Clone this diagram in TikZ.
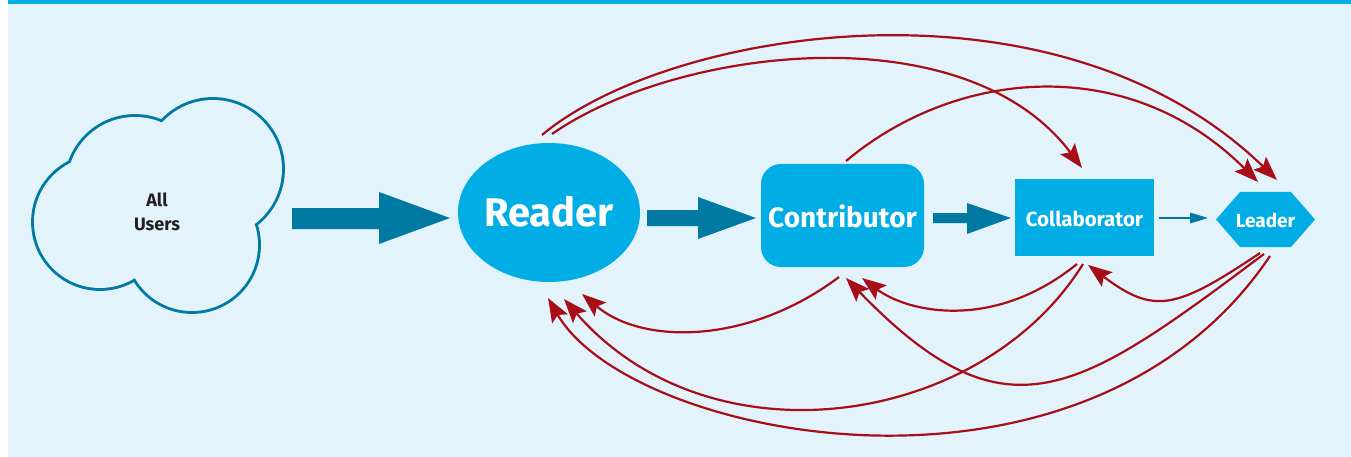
\documentclass[tikz,border=0pt]{standalone}
\usepackage{fontspec}
\setmainfont{Fira Sans}
\usetikzlibrary{arrows.meta,shapes.geometric}
\definecolor{bgblue}{HTML}{E2F3FB}
\definecolor{cyanbox}{HTML}{00ADE5}
\definecolor{teal}{HTML}{007AA3}
\definecolor{redline}{HTML}{A70E18}
\definecolor{darktext}{HTML}{231F20}
\tikzset{
  fatarrow/.style={fill=teal, draw=none},
  boxtext/.style={text=white, font=\bfseries, inner sep=0pt},
  redtip/.tip={Stealth[length=24pt, width=18pt, inset=4.5pt]},
  flow/.style={draw=redline, line width=2.2pt, -redtip},
}
\begin{document}
\begin{tikzpicture}[x=1pt,y=-1pt]
\useasboundingbox (0,0) rectangle (1351,457);
\fill[white] (0,0) rectangle (1351,457);
\fill[bgblue] (8,0) rectangle (1351,457);
\fill[cyanbox] (8,0) rectangle (1351,4);
% cloud
\foreach \cx/\cy/\r in {135/185/68, 213/169/69, 192/245/66, 100/222/66}
  \draw[teal, line width=5.8pt] (\cx,\cy) circle[radius=\r];
\foreach \cx/\cy/\r in {135/185/68, 213/169/69, 192/245/66, 100/222/66}
  \fill[bgblue] (\cx,\cy) circle[radius=\r];
\node[text=darktext, font=\bfseries\fontsize{18}{24}\selectfont, align=center] (users) at (157,212) {All\\Users};
% fat arrows
\fill[fatarrow] (292,208) -- (379,208) -- (379,192) -- (450,218) -- (379,244) -- (379,229) -- (292,229) -- cycle;
\fill[fatarrow] (647,210) -- (698,210) -- (698,197) -- (756,218) -- (698,239) -- (698,226) -- (647,226) -- cycle;
\fill[fatarrow] (933,213) -- (967,213) -- (967,203) -- (1011,218) -- (967,234) -- (967,223) -- (933,223) -- cycle;
% nodes
\node[ellipse, fill=cyanbox, minimum width=182pt, minimum height=139pt, inner sep=0pt] (reader) at (549,212.5) {};
\node[boxtext, font=\bfseries\fontsize{40}{40}\selectfont] (readert) at (549,212) {Reader};
\node[fill=cyanbox, rounded corners=20pt, minimum width=163pt, minimum height=103pt, inner sep=0pt] (contrib) at (842.5,215.5) {};
\node[boxtext, font=\bfseries\fontsize{28}{28}\selectfont] (contribt) at (842.5,216) {Contributor};
\node[fill=cyanbox, minimum width=139pt, minimum height=77pt, inner sep=0pt] (collab) at (1084.5,217.5) {};
\node[boxtext, font=\bfseries\fontsize{20.5}{20.5}\selectfont] (collabt) at (1084.5,219) {Collaborator};
\fill[cyanbox] (1216,219.5) -- (1240,192) -- (1291,192) -- (1315,219.5) -- (1291,247) -- (1240,247) -- cycle;
\node[boxtext, font=\bfseries\fontsize{19}{19}\selectfont] (leader) at (1265.5,220) {Leader};
% thin arrow
\coordinate (c4a) at (1159,218);
\coordinate (c4b) at (1190,218);
\draw[teal, line width=2.7pt] (c4a) -- (c4b);
\fill[teal] (1190,212.5) -- (1208,218) -- (1190,223.5) -- cycle;
% endpoints of feedback curves
\coordinate (rTop1) at (542,135);
\coordinate (rTop2) at (552,134);
\coordinate (cTop) at (846,161);
\coordinate (colTopIn) at (1082,168);
\coordinate (lTopIn1) at (1258,182);
\coordinate (lTopIn2) at (1277,180);
\coordinate (cBot) at (839,277);
\coordinate (rIn1) at (548,298);
\coordinate (rIn2) at (564,299);
\coordinate (rIn3) at (582,294);
\coordinate (cIn1) at (846,278);
\coordinate (cIn2) at (862,278);
\coordinate (colBot1) at (1077,264);
\coordinate (colBot2) at (1083,264);
\coordinate (colIn) at (1088,265);
\coordinate (lBot1) at (1260,253);
\coordinate (lBot2) at (1264,254);
\coordinate (lBot3) at (1270,256);
% top curves
\draw[flow] (rTop1) .. controls (668,29) and (1055,-35) .. (lTopIn2);
\draw[flow] (rTop2) .. controls (677,47) and (965,12) .. (colTopIn);
\draw[flow] (cTop) .. controls (957,68) and (1129,53) .. (lTopIn1);
% bottom curves
\draw[flow] (cBot) .. controls (750,344) and (643.5,345.6) .. (rIn3);
\draw[flow] (lBot3) .. controls (1085,531) and (630,440) .. (rIn1);
\draw[flow] (colBot2) .. controls (981,428) and (710,467) .. (rIn2);
\draw[flow] (lBot2) .. controls (1077,394) and (1006.5,444) .. (cIn1);
\draw[flow] (colBot1) .. controls (993,332) and (907,312) .. (cIn2);
\draw[flow] (lBot1) .. controls (1175,310) and (1154,314.5) .. (colIn);
\end{tikzpicture}
\end{document}
